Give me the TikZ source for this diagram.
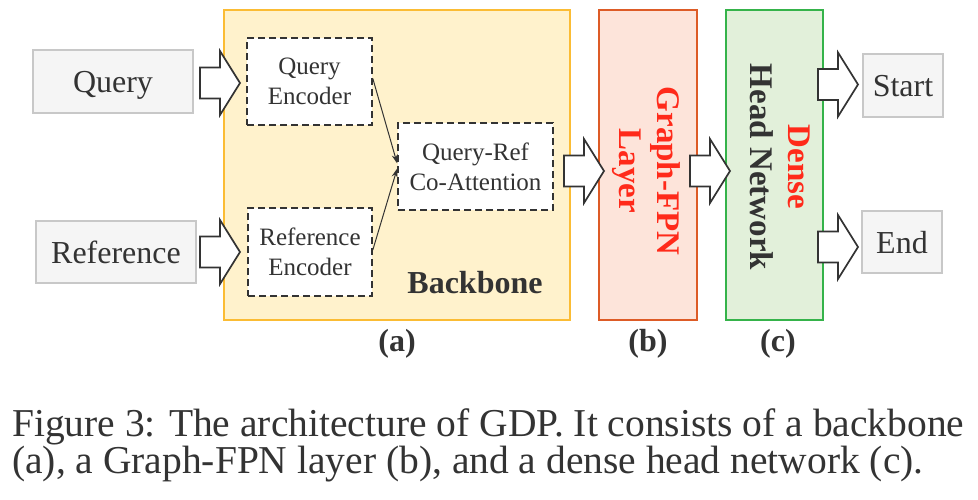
\documentclass[tikz,border=0pt]{standalone}
\usepackage{fontspec}
\setmainfont{Liberation Serif}
\usetikzlibrary{arrows.meta,calc}
\definecolor{txt}{HTML}{333333}
\definecolor{grayfill}{HTML}{F5F5F5}
\definecolor{grayline}{HTML}{C8C8C8}
\definecolor{bbfill}{HTML}{FFF2CC}
\definecolor{bbline}{HTML}{FBBC34}
\definecolor{gffill}{HTML}{FDE4DA}
\definecolor{gfline}{HTML}{DD5B26}
\definecolor{dnfill}{HTML}{E2F0DA}
\definecolor{dnline}{HTML}{35B34A}
\definecolor{redtxt}{HTML}{FF2A1A}
\newcommand\blockarr[1]{\draw[blockarrow] #1 ++(-40,-15.5) -- ++(20,0) -- ++(0,-16.5) -- ++(20,32) -- ++(-20,32) -- ++(0,-16.5) -- ++(-20,0) -- cycle;}
\begin{document}
\begin{tikzpicture}[x=1pt,y=-1pt,
  graybox/.style={draw=grayline, line width=2.5pt, fill=grayfill, text=txt, inner sep=0pt, text depth=0pt, font=\fontsize{32}{38}\selectfont},
  bigbox/.style={line width=2.5pt, inner sep=0pt, minimum height=310pt},
  dashbox/.style={draw=txt, line width=1.6pt, dash pattern=on 7pt off 4pt, fill=white, text=txt, inner sep=0pt, align=center, font=\fontsize{25}{30}\selectfont},
  blockarrow/.style={draw=txt, line width=1.7pt, fill=white, line join=miter},
  thinarr/.style={draw=txt, line width=1pt, -{Stealth[length=9pt,width=6pt]}},
  lab/.style={text=txt, font=\fontsize{32}{38}\selectfont\bfseries, inner sep=0pt},
  vtext/.style={rotate=-90, align=center, inner sep=0pt, font=\fontsize{33}{38}\selectfont\bfseries},
  captext/.style={anchor=base west, text=txt, inner sep=0pt, font=\fontsize{39.5}{44}\selectfont}
]
\useasboundingbox (0,0) rectangle (978,499);
% input boxes
\node[graybox, minimum width=160pt, minimum height=63pt] (query) at (113,81.5) {Query};
\node[graybox, minimum width=160pt, minimum height=62pt] (refer) at (116,252) {Reference};
% backbone
\node[bigbox, draw=bbline, fill=bbfill, minimum width=346pt] (backbone) at (397,165) {};
\node[bigbox, draw=gfline, fill=gffill, minimum width=98pt] (gfpn) at (648,165) {};
\node[bigbox, draw=dnline, fill=dnfill, minimum width=97pt] (dense) at (774.5,165) {};
% inner boxes
\node[dashbox, minimum width=125pt, minimum height=87pt] (qenc) at (309.5,81.5) {Query\\Encoder};
\node[dashbox, minimum width=124pt, minimum height=88pt] (renc) at (310,252) {Reference\\Encoder};
\node[dashbox, minimum width=155pt, minimum height=87pt] (coatt) at (475.5,166.5) {Query-Ref\\Co-Attention};
\node[lab] (bbl) at (475,283) {Backbone};
\draw[thinarr] ($(qenc.east)+(0,-3)$) -- ($(coatt.west)+(0,-3)$);
\draw[thinarr] ($(renc.east)+(0,-2)$) -- ($(coatt.west)+(0,2)$);
% rotated texts
\node[vtext, text=redtxt] (gftext) at (646.5,171) {Graph-FPN\\Layer};
\node[vtext, text=txt] (dntext) at (780,167) {\textcolor{redtxt}{Dense}\\Head Network};
% output boxes
\node[graybox, minimum width=80pt, minimum height=63pt] (start) at (903,85.5) {Start};
\node[graybox, minimum width=80pt, minimum height=62pt] (end) at (902,242) {End};
% block arrows (tips)
\coordinate (tq) at (240,83);
\coordinate (tr) at (240,252);
\coordinate (tg) at (604,171);
\coordinate (td) at (730,171);
\coordinate (ts) at (858,84.5);
\coordinate (te) at (858,247);
\blockarr{(tq)}
\blockarr{(tr)}
\blockarr{(tg)}
\blockarr{(td)}
\blockarr{(ts)}
\blockarr{(te)}
% sub labels
\node[lab] (la) at (397,344) {(a)};
\node[lab] (lb) at (648,344) {(b)};
\node[lab] (lc) at (778,344) {(c)};
% caption
\node[captext] (cap1) at (12,436) {Figure 3: The architecture of GDP. It consists of a backbone};
\node[captext] (cap2) at (12,473) {(a), a Graph-FPN layer (b), and a dense head network (c).};
\end{tikzpicture}
\end{document}
